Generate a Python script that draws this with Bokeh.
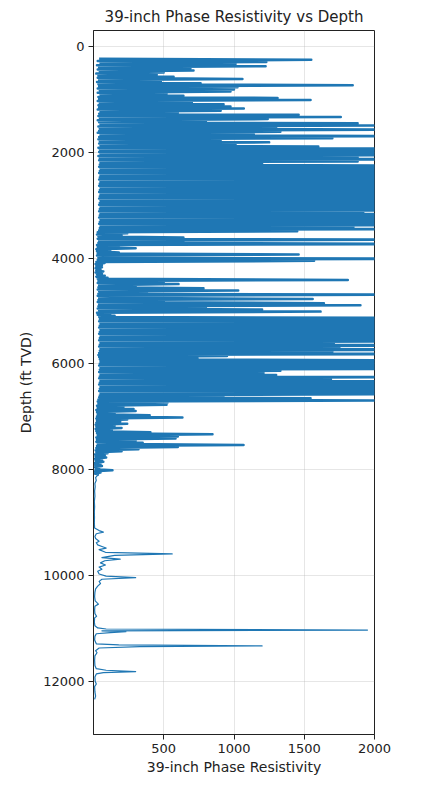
from bokeh.plotting import figure
from bokeh.models import Range1d, FixedTicker
from bokeh.embed import file_html
from bokeh.resources import INLINE

# ---- data ----
# Shallow log: regularly sampled every 20 ft starting at 230 ft (values alternate low / high)
SHALLOW_TOP = 230
SHALLOW_STEP = 20
RES_SHALLOW = [
    40, 1550, 30, 1230, 50, 1011, 25, 1225, 40, 690, 30, 712, 45, 500, 20, 450, 35, 570, 30, 1060,
    40, 480, 25, 762, 35, 1845, 40, 1025, 30, 1000, 45, 975, 30, 520, 50, 640, 35, 1310, 40, 1545,
    30, 700, 45, 926, 35, 975, 40, 1070, 30, 905, 50, 600, 40, 1460, 35, 1760, 45, 1240, 30, 800,
    40, 1880, 50, 1995, 35, 1300, 45, 2400, 40, 1330, 30, 1140, 50, 2300, 40, 1700, 35, 905, 45, 1250,
    40, 1011, 50, 1600, 35, 2500, 45, 3000, 40, 2200, 50, 2600, 35, 1880, 45, 2400, 40, 1880, 50, 1200,
    45, 2200, 40, 2600, 50, 3000, 45, 2400, 40, 3000, 50, 2800, 45, 3000, 40, 2600, 50, 3000, 45, 2500,
    40, 3000, 50, 2700, 45, 3000, 40, 2400, 50, 3000, 45, 2800, 40, 3000, 50, 2500, 45, 3000, 40, 2600,
    50, 3000, 45, 2800, 40, 1920, 50, 3000, 45, 2600, 40, 3000, 50, 2500, 45, 2200, 40, 3000, 50, 1850,
    45, 2100, 40, 1450, 30, 240, 25, 200, 35, 640, 30, 2400, 40, 640, 35, 2600, 25, 180, 30, 300,
    20, 120, 25, 180, 30, 1460, 25, 180, 35, 2500, 30, 1570, 20, 80, 15, 60, 20, 60, 15, 50,
    20, 70, 15, 60, 25, 80, 20, 100, 30, 1810, 35, 500, 30, 605, 40, 300, 35, 783, 30, 1030,
    40, 380, 35, 2300, 30, 400, 40, 1560, 35, 500, 30, 1640, 40, 1900, 35, 800, 30, 1200, 40, 1616,
    25, 120, 30, 150, 40, 2500, 45, 3000, 40, 2800, 50, 3000, 45, 2600, 40, 3000, 50, 2900, 45, 3000,
    40, 2700, 50, 3000, 45, 2800, 40, 3000, 50, 1710, 45, 3000, 40, 1750, 50, 3000, 45, 1700, 40, 2600,
    35, 950, 40, 740, 45, 2300, 50, 3000, 45, 3000, 40, 3000, 50, 2500, 45, 1330, 40, 1210, 50, 1300,
    45, 2200, 40, 1690, 50, 2200, 45, 3000, 40, 3000, 50, 3000, 45, 2600, 40, 3000, 50, 2500, 45, 925,
    40, 1545, 35, 2200, 30, 527, 35, 520, 25, 213, 30, 285, 20, 300, 25, 150, 30, 400, 25, 633,
    20, 240, 25, 190, 20, 240, 15, 150, 20, 200, 15, 130, 20, 405, 25, 847, 30, 600, 20, 584,
    25, 300, 20, 350, 30, 1068, 25, 600, 20, 320, 15, 200, 20, 100, 10, 80, 15, 90, 10, 60,
    15, 70, 10, 50, 12, 60, 10, 40, 15, 135, 10, 50, 8, 40,
]

# Deep log: irregular samples (depth ft, resistivity)
DEEP_DEPTH = [
    8100, 8150, 8200, 8260, 8320, 8400, 8500, 8600, 8700, 8800, 8900, 9000, 9100, 9150, 9180,
    9210, 9260, 9300, 9350, 9380, 9420, 9450, 9480, 9510, 9560, 9590, 9620, 9660, 9690, 9720,
    9760, 9800, 9840, 9880, 9920, 9970, 10010, 10040, 10070, 10110, 10150, 10200, 10250, 10320,
    10400, 10480, 10540, 10580, 10650, 10720, 10770, 10800, 10880, 10950, 10990, 11010, 11030,
    11045, 11060, 11080, 11100, 11150, 11220, 11290, 11310, 11330, 11345, 11370, 11420, 11460,
    11520, 11600, 11700, 11760, 11790, 11815, 11835, 11860, 11920, 12000, 12050, 12100, 12200,
    12280, 12340,
]
DEEP_RES = [
    30, 15, 20, 10, 12, 8, 10, 6, 8, 6, 7, 6, 8, 40, 70,
    20, 10, 15, 40, 20, 30, 60, 90, 40, 85, 560, 150, 60, 190, 80,
    50, 85, 40, 60, 30, 40, 90, 300, 60, 40, 50, 30, 15, 10,
    8, 12, 35, 10, 8, 10, 22, 8, 6, 10, 30, 90, 1950,
    60, 230, 120, 20, 10, 8, 20, 180, 1200, 330, 40, 15, 25,
    10, 8, 10, 20, 90, 300, 70, 20, 10, 12, 20, 8, 10,
    15, 8,
]

X_TICKS = [500, 1000, 1500, 2000]
Y_TICKS = [0, 2000, 4000, 6000, 8000, 10000, 12000]

shallow_depth = [SHALLOW_TOP + SHALLOW_STEP * i for i in range(len(RES_SHALLOW))]

FONT = "DejaVu Sans"
BLUE = "#1f77b4"

p = figure(
    width=423, height=786, output_backend="svg", toolbar_location=None,
    x_range=Range1d(0, 2000), y_range=Range1d(13005, -305),
    min_border_left=93, min_border_right=49, min_border_top=28, min_border_bottom=52,
    title="39-inch Phase Resistivity vs Depth",
    background_fill_color="white", border_fill_color="white",
)

# dense shallow part of the log
p.line(RES_SHALLOW, shallow_depth, line_color=BLUE, line_width=2.5, line_join="round")
# sparse deep part of the same log (joined to the last shallow sample)
p.line([RES_SHALLOW[-1]] + DEEP_RES, [shallow_depth[-1]] + DEEP_DEPTH,
       line_color=BLUE, line_width=1.2, line_join="round")

p.title.align = "center"
p.title.text_font = FONT
p.title.text_font_size = "15px"
p.title.text_font_style = "normal"
p.title.text_color = "#222222"

p.outline_line_color = "#222222"
p.outline_line_width = 1

for ax in (p.xaxis[0], p.yaxis[0]):
    ax.axis_line_color = "#222222"
    ax.major_tick_line_color = "#222222"
    ax.major_tick_out = 5
    ax.major_tick_in = 0
    ax.minor_tick_line_color = None
    ax.major_label_text_font = FONT
    ax.major_label_text_font_size = "13px"
    ax.major_label_text_color = "#222222"
    ax.axis_label_text_font = FONT
    ax.axis_label_text_font_size = "14px"
    ax.axis_label_text_font_style = "normal"
    ax.axis_label_text_color = "#222222"

p.xaxis.ticker = FixedTicker(ticks=X_TICKS)
p.yaxis.ticker = FixedTicker(ticks=Y_TICKS)
p.xaxis.axis_label = "39-inch Phase Resistivity"
p.yaxis.axis_label = "Depth (ft TVD)"
p.xaxis.major_label_standoff = 4
p.yaxis.major_label_standoff = 4
p.xaxis.axis_label_standoff = 3
p.yaxis.axis_label_standoff = 6

p.grid.grid_line_color = "#b0b0b0"
p.grid.grid_line_alpha = 0.4
p.grid.grid_line_width = 0.8

open("out.html", "w").write(file_html(p, INLINE))
